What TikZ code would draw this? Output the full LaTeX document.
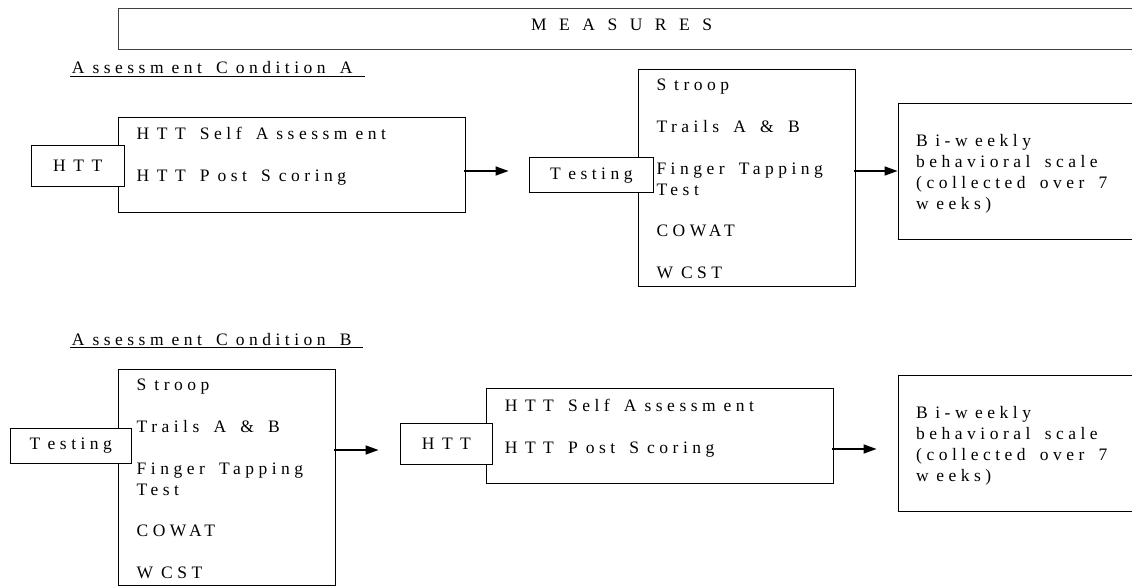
\documentclass[tikz,border=0pt]{standalone}
\usepackage{fontspec}
\setmainfont{Liberation Serif}[LetterSpace=25.7,WordSpace=1.6]
\usetikzlibrary{arrows.meta,calc}
\newcommand{\gk}{\kern8pt}
\newcommand{\hk}{\kern7.5pt}
\begin{document}
\begin{tikzpicture}[x=1pt,y=-1pt,
  font=\fontsize{17.5}{21}\selectfont,
  box/.style={draw=black, line width=0.9pt, inner sep=0pt},
  smallbox/.style={box, fill=white},
  txt/.style={anchor=base west, inner sep=0pt},
  arr/.style={line width=1.5pt, -{Triangle[length=13pt,width=9pt]}}]
\useasboundingbox (0,0) rectangle (1132,586);

% header
\node[box, draw=black!75, minimum width=1032pt, minimum height=41pt] (meas) at (634,28.5) {};
\node[txt] (measLbl) at (531,31) {\addfontfeature{LetterSpace=71.4}MEASURES};

% ---------------- Condition A ----------------
\node[txt] (condA) at (71.7,74) {A\gk ssessm\gk ent C\gk ondition A};
\draw[line width=0.8pt] ([xshift=-1.7pt,yshift=-2.5pt]condA.base west) -- ([yshift=-2.5pt]condA.base west -| 365,0);

\node[box, minimum width=347pt, minimum height=95pt] (A1) at (291.5,164.5) {};
\node[txt] (A1t1) at (136.5,139) {H\hk T\hk T Self A\gk ssessm\gk ent};
\node[txt] (A1t2) at (136.5,181.5) {H\hk T\hk T P\gk ost S\gk coring};
\node[smallbox, minimum width=92.5pt, minimum height=41pt] (hA) at (77.75,165.5) {H\hk T\hk T};

\node[box, minimum width=217pt, minimum height=217pt] (A2) at (746.7,177.5) {};
\node[txt] (A2t1) at (656.3,90.7) {S\gk troop};
\node[txt] (A2t2) at (656.3,132.7) {Trails A \& B};
\node[txt] (A2t3) at (656.3,174) {Finger Tapping};
\node[txt] (A2t4) at (656.3,195) {Test};
\node[txt] (A2t5) at (656.3,236.7) {COWAT};
\node[txt] (A2t6) at (656.3,278.3) {W\gk CST};
\node[smallbox, minimum width=123.4pt, minimum height=35.3pt] (tA) at (591.3,175.2) {T\hk esting};

\node[box, minimum width=252pt, minimum height=136pt] (A3) at (1024,171) {};
\node[txt] (A3t1) at (916,146) {B\hk i-w\hk eekly};
\node[txt] (A3t2) at (916,167) {behavioral scale};
\node[txt] (A3t3) at (916,188) {(collected over 7};
\node[txt] (A3t4) at (916,209) {w\hk eeks)};

\draw[arr] ($(A1.east)+(-1.5,6.5)$) -- ($(A1.east -| tA.west)+(-20.6,6.5)$);
\draw[arr] ($(A2.east |- A3.west)+(-1.5,0)$) -- (A3.west);

% ---------------- Condition B ----------------
\node[txt] (condB) at (71.7,345) {A\gk ssessm\gk ent C\gk ondition B};
\draw[line width=0.8pt] ([xshift=-1.7pt,yshift=-2.5pt]condB.base west) -- ([yshift=-2.5pt]condB.base west -| 363,0);

\node[box, minimum width=217pt, minimum height=216pt] (B1) at (226.5,477) {};
\node[txt] (B1t1) at (136.5,390.7) {S\gk troop};
\node[txt] (B1t2) at (136.5,432.7) {Trails A \& B};
\node[txt] (B1t3) at (136.5,474) {Finger Tapping};
\node[txt] (B1t4) at (136.5,495) {Test};
\node[txt] (B1t5) at (136.5,536.7) {COWAT};
\node[txt] (B1t6) at (136.5,578.3) {W\gk CST};
\node[smallbox, minimum width=120.5pt, minimum height=35pt] (tB) at (70.75,445.5) {T\hk esting};

\node[box, minimum width=347pt, minimum height=95pt] (B2) at (660,435.5) {};
\node[txt] (B2t1) at (504.7,411) {H\hk T\hk T Self A\gk ssessm\gk ent};
\node[txt] (B2t2) at (504.7,453.3) {H\hk T\hk T P\gk ost S\gk coring};
\node[smallbox, minimum width=92.8pt, minimum height=41pt] (hB) at (446.4,443.5) {H\hk T\hk T};

\node[box, minimum width=252pt, minimum height=136pt] (B3) at (1024,443) {};
\node[txt] (B3t1) at (916,418.3) {B\hk i-w\hk eekly};
\node[txt] (B3t2) at (916,439.3) {behavioral scale};
\node[txt] (B3t3) at (916,460.3) {(collected over 7};
\node[txt] (B3t4) at (916,481.3) {w\hk eeks)};

\draw[arr] ($(B1.east)+(-1.5,-27)$) -- ($(B1.east -| hB.west)+(-21,-27)$);
\draw[arr] ($(B2.east)+(-1.5,13.5)$) -- ($(B2.east -| B3.west)+(-21,13.5)$);
\end{tikzpicture}
\end{document}
